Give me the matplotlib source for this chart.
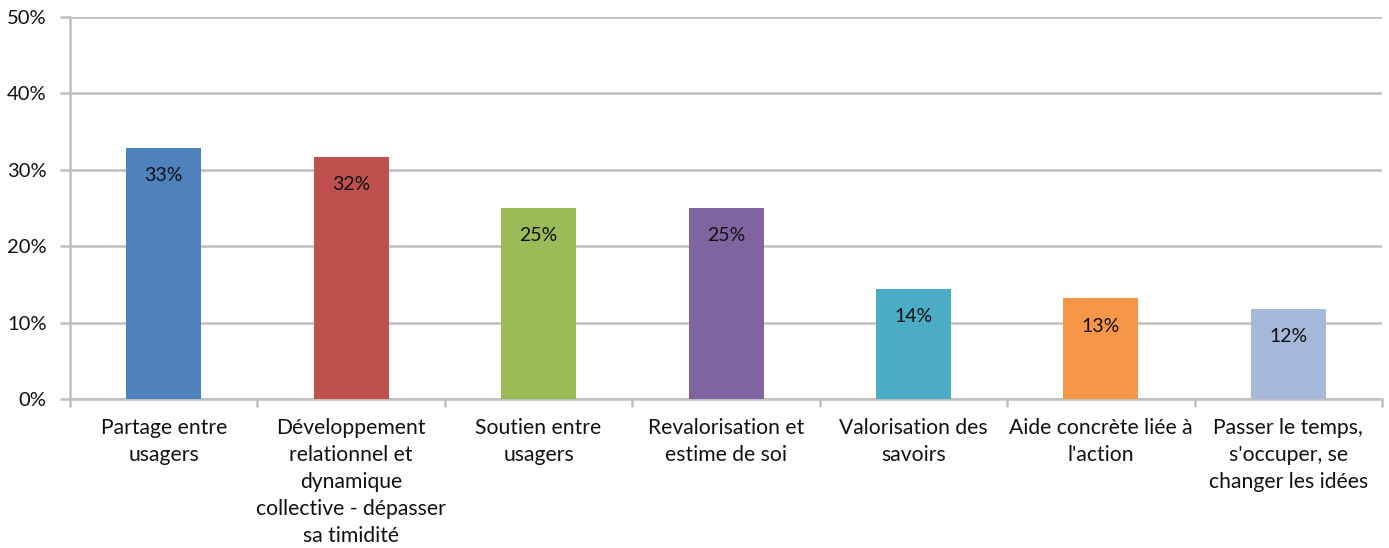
import matplotlib
matplotlib.use("Agg")
import matplotlib.pyplot as plt
from matplotlib.ticker import FuncFormatter

categories = [
    "Partage entre\nusagers",
    "Développement\nrelationnel et\ndynamique\ncollective - dépasser\nsa timidité",
    "Soutien entre\nusagers",
    "Revalorisation et\nestime de soi",
    "Valorisation des\nsavoirs",
    "Aide concrète liée à\nl'action",
    "Passer le temps,\ns'occuper, se\nchanger les idées",
]
values = [0.329, 0.317, 0.250, 0.250, 0.144, 0.132, 0.118]
labels = ["33%", "32%", "25%", "25%", "14%", "13%", "12%"]
colors = ["#4F81BD", "#C0504D", "#9BBB59", "#8064A2", "#4BACC6", "#F79646", "#A5B8D9"]

plt.rcParams['font.family'] = ['Lato', 'DejaVu Sans']

fig = plt.figure(figsize=(13.89, 5.48), dpi=100)
ax = fig.add_axes([0.0504, 0.272, 0.9446, 0.697])

x = list(range(len(categories)))
bars = ax.bar(x, values, width=0.4, color=colors, zorder=3)
for b, lab in zip(bars, labels):
    ax.annotate(lab, (b.get_x() + b.get_width() / 2, b.get_height()),
                xytext=(0, -28), textcoords="offset pixels",
                ha="center", va="center", fontsize=14, color="#111111", zorder=4)

ax.set_xlim(-0.5, len(categories) - 0.5)
ax.set_ylim(0, 0.5)
ax.set_yticks([0, 0.1, 0.2, 0.3, 0.4, 0.5])
ax.yaxis.set_major_formatter(FuncFormatter(lambda v, p: f"{v*100:.0f}%"))
ax.grid(axis="y", color="#BFBFBF", linewidth=1.8, zorder=0)

ax.set_xticks(x)
ax.set_xticklabels(categories, fontsize=15.2, linespacing=1.43, color="#111111")
ax.set_xticks([i - 0.5 for i in range(len(categories) + 1)], minor=True)
ax.tick_params(axis="x", which="major", length=0, pad=14)
ax.tick_params(axis="x", which="minor", length=6, width=1.8, color="#BFBFBF")
ax.tick_params(axis="y", length=7, width=1.8, color="#BFBFBF", labelsize=14.5, labelcolor="#111111", pad=10)

for s in ["top", "right"]:
    ax.spines[s].set_visible(False)
for s in ["left", "bottom"]:
    ax.spines[s].set_color("#BFBFBF")
    ax.spines[s].set_linewidth(1.8)

fig.savefig("out.png", dpi=100)
